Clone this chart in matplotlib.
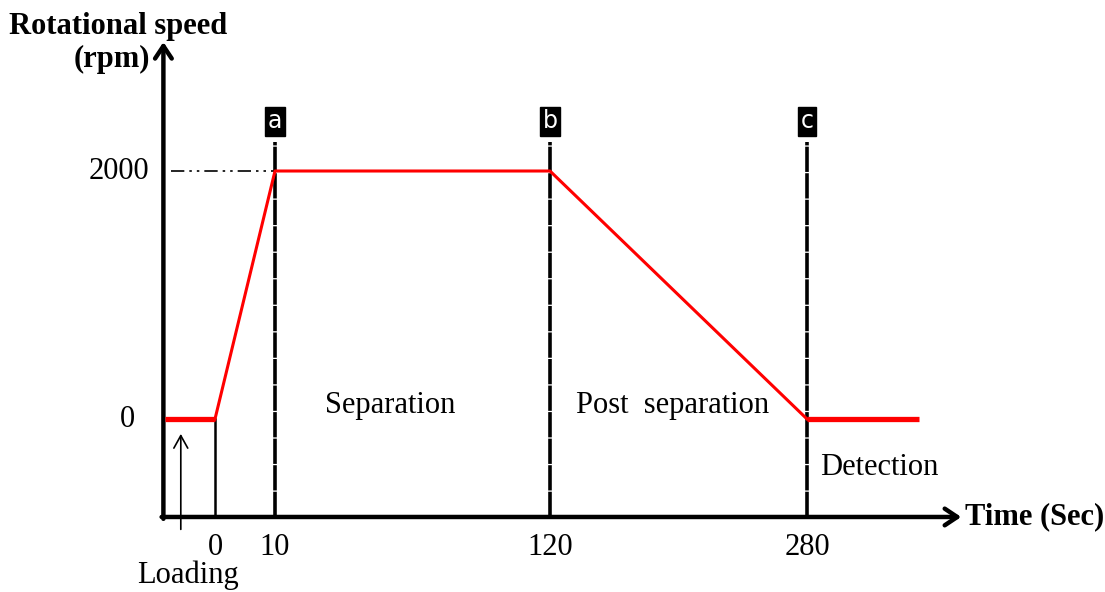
import numpy as np
import matplotlib
matplotlib.use("Agg")
import matplotlib.pyplot as plt

# speed profile (time in s, speed in rpm)
profile_time = [0, 10, 120, 280]
profile_speed = [0, 2000, 2000, 0]
loading_time = [-8.3, 0]
detection_time = [280, 350]
rest_speed = 0

stage_time = [10, 120, 280]
stage_label = ["a", "b", "c"]
tick_time = [0, 10, 120, 280]
tick_label = ["0", "10", "120", "280"]
speed_ticks = [0, 2000]

# schematic (non linear) time axis: time -> horizontal position
T_KNOTS = [-60, 0, 10, 120, 280, 500]
U_KNOTS = [-145, 215, 275, 550, 807, 1160.4]


def fwd(t):
    return np.interp(t, T_KNOTS, U_KNOTS)


def inv(u):
    return np.interp(u, U_KNOTS, T_KNOTS)


plt.rcParams["font.family"] = ["Liberation Serif", "DejaVu Serif"]

fig = plt.figure(figsize=(11.05, 5.92), dpi=100)
ax = fig.add_axes([0, 0, 1, 1])
ax.set_xscale("function", functions=(fwd, inv))
ax.set_xlim(inv(0), inv(1105))
ax.set_ylim(-1395, 3379)
ax.axis("off")

x_axis_y = -790
y_axis_x = -8.6
fs = 22

# axes with arrows
arrow = dict(arrowstyle="->,head_length=0.9,head_width=0.6", lw=3.2, color="k",
             shrinkA=0, shrinkB=0)
ax.annotate("", xy=(376, x_axis_y), xytext=(y_axis_x - 0.3, x_axis_y), arrowprops=arrow)
ax.annotate("", xy=(y_axis_x, 3040), xytext=(y_axis_x, x_axis_y - 15), arrowprops=arrow)

# stage markers
for t, lab in zip(stage_time, stage_label):
    ax.plot([t, t], [x_axis_y, 2230], color="k", lw=2.6, ls=(0, (7, 0.35)), zorder=2)
    ax.text(t, 2400, lab, color="white", fontsize=17, family="DejaVu Sans",
            ha="center", va="center",
            bbox=dict(boxstyle="square,pad=0.12", fc="black", ec="black"))

# start of run
ax.plot([0, 0], [x_axis_y, 0], color="k", lw=1.8, zorder=2)
# reference line for 2000 rpm
ax.plot([y_axis_x + 1.2, 10], [2000, 2000], color="k", lw=1.2,
        ls=(0, (8, 3, 1.5, 3, 1.5, 3)), zorder=2)

# speed curve
ax.plot(profile_time, profile_speed, color="#ff0000", lw=2.2, zorder=3)
ax.plot(loading_time, [rest_speed] * 2, color="#ff0000", lw=3.8,
        solid_capstyle="butt", zorder=3)
ax.plot(detection_time, [rest_speed] * 2, color="#ff0000", lw=3.8,
        solid_capstyle="butt", zorder=3)

# tick labels
for t, lab in zip(tick_time, tick_label):
    ax.text(t, -1040, lab, fontsize=fs, ha="center", va="center")
ax.text(-11.0, speed_ticks[1], "2000", fontsize=fs, ha="right", va="center")
ax.text(-13.4, speed_ticks[0], "0", fontsize=fs, ha="right", va="center")

# axis titles
ax.text(-34.3, 3165, "Rotational speed", fontsize=fs, fontweight="bold",
        ha="left", va="center")
ax.text(-10.8, 2900, "(rpm)", fontsize=fs, fontweight="bold", ha="right", va="center")
ax.text(378.5, x_axis_y, "Time (Sec)", fontsize=fs, fontweight="bold",
        ha="left", va="center")

# phase labels
ax.text(56, 113, "Separation", fontsize=fs, ha="center", va="center")
ax.text(196, 113, "Post  separation", fontsize=fs, ha="center", va="center")
ax.text(288, -390, "Detection", fontsize=fs, ha="left", va="center")

# loading
ax.annotate("", xy=(-5.7, -120), xytext=(-5.7, -890),
            arrowprops=dict(arrowstyle="->,head_length=0.9,head_width=0.5",
                            lw=1.2, color="k", shrinkA=0, shrinkB=0))
ax.text(-4.5, -1375, "Loading", fontsize=fs, ha="center", va="bottom")

fig.savefig("out.png", dpi=100)
